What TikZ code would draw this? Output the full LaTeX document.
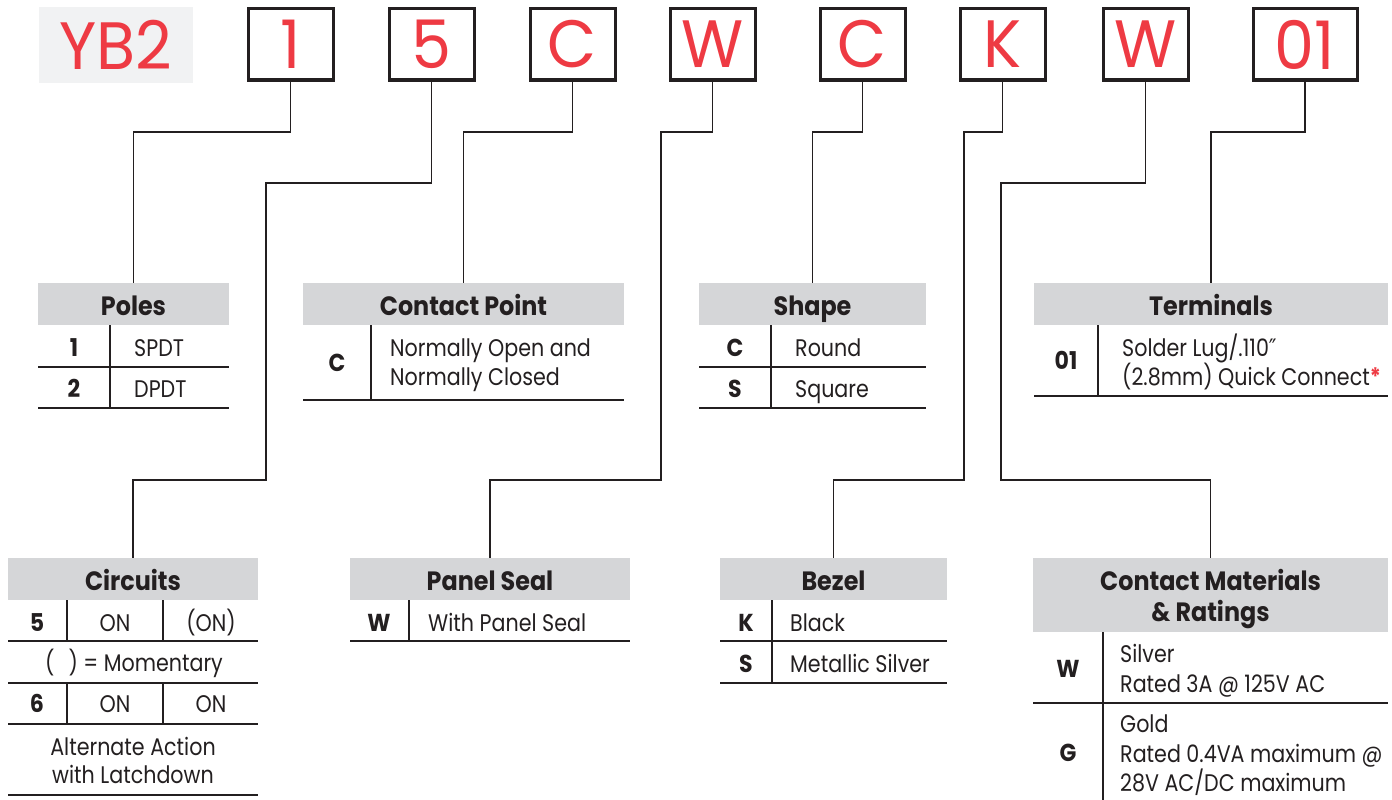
\documentclass[tikz,border=0pt]{standalone}
\usepackage{fontspec}
\setmainfont{Poppins}[FakeStretch=0.86]
\newfontfamily\hdrfont{Poppins}[FakeStretch=0.9]
\newfontfamily\topfont{Poppins}[FakeStretch=0.95]
\newfontfamily\dvfont{DejaVu Sans}[FakeStretch=0.86]
\definecolor{ink}{HTML}{231F20}
\definecolor{redc}{HTML}{EE3A43}
\definecolor{hdrg}{HTML}{D5D6D8}
\definecolor{yb}{HTML}{F1F2F3}
\begin{document}
\begin{tikzpicture}[x=1pt,y=-1pt,
  topbox/.style={draw=ink,line width=3pt,minimum width=85pt,minimum height=71pt,inner sep=0pt,
    text=redc,font=\topfont\fontsize{67}{67}\selectfont},
  hdr/.style={fill=hdrg,inner sep=0pt,minimum height=42pt},
  htxt/.style={inner sep=0pt,anchor=base,text=ink,font=\hdrfont\bfseries\fontsize{26.5}{32}\selectfont},
  cell/.style={inner sep=0pt,anchor=base west,text=ink,font=\fontsize{24}{29}\selectfont},
  ccell/.style={cell,anchor=base},
  key/.style={inner sep=0pt,anchor=base,text=ink,font=\hdrfont\bfseries\fontsize{24.5}{29}\selectfont},
  tl/.style={draw=ink,line width=1.4pt},
  conn/.style={draw=ink,line width=1.1pt}]
\useasboundingbox (0,0) rectangle (1392,800);
% top row
\node[fill=yb,minimum width=154pt,minimum height=75pt,inner sep=0pt,text=redc,font=\topfont\fontsize{67}{67}\selectfont] (yb2) at (116,45) {YB2};
\node[topbox] (b1) at (290.5,44.5) {1};
\node[topbox] (b2) at (431.5,44.5) {5};
\node[topbox] (b3) at (572.5,44.5) {C};
\node[topbox] (b4) at (712.5,44.5) {W};
\node[topbox] (b5) at (862.5,44.5) {C};
\node[topbox] (b6) at (1002.5,44.5) {K};
\node[topbox] (b7) at (1145.5,44.5) {W};
\node[topbox,minimum width=104pt] (b8) at (1305,44.5) {01};
% header boxes
\node[hdr,minimum width=191pt] (poles) at (133.5,304) {};
\node[hdr,minimum width=321pt] (cpt) at (463.5,304) {};
\node[hdr,minimum width=227pt] (shape) at (812.5,304) {};
\node[hdr,minimum width=354pt] (term) at (1211,304) {};
\node[hdr,minimum width=250pt] (circ) at (133,579) {};
\node[hdr,minimum width=280pt] (seal) at (490,579) {};
\node[hdr,minimum width=227pt] (bezel) at (833.5,579) {};
\node[hdr,minimum width=355pt,minimum height=74pt] (mat) at (1210.5,595) {};
% header texts
\node[htxt] (polesT) at (133.5,315) {Poles};
\node[htxt] (cptT) at (463.5,315) {Contact Point};
\node[htxt] (shapeT) at (812.5,315) {Shape};
\node[htxt] (termT) at (1211,315) {Terminals};
\node[htxt] (circT) at (133,590) {Circuits};
\node[htxt] (sealT) at (490,590) {Panel Seal};
\node[htxt] (bezelT) at (833.5,590) {Bezel};
\node[htxt] (matT1) at (1210.5,590) {Contact Materials};
\node[htxt] (matT2) at (1210.5,621) {\& Ratings};
% connectors
\draw[conn] (b1.south) -- (b1.south |- 0,132) -| (poles.north);
\draw[conn] (b2.south) -- (b2.south |- 0,183) -- (266,183) -- (266,480) -| (circ.north);
\draw[conn] (b3.south) -- (b3.south |- 0,132) -| (cpt.north);
\draw[conn] (b4.south) -- (b4.south |- 0,132) -- (661,132) -- (661,480) -| (seal.north);
\draw[conn] (b5.south) -- (b5.south |- 0,132) -| (shape.north);
\draw[conn] (b6.south) -- (b6.south |- 0,132) -- (964,132) -- (964,480) -| (bezel.north);
\draw[conn] (b7.south) -- (b7.south |- 0,183) -- (1001,183) -- (1001,480) -| (mat.north);
\draw[conn] (b8.south) -- (b8.south |- 0,132) -| (term.north);
% Poles table
\draw[tl] (38,367) -- (229,367) (38,408) -- (229,408) (110,325) -- (110,408);
\node[key] (p1k) at (74,356) {1};
\node[cell] (p1v) at (134,356) {SPDT};
\node[key] (p2k) at (74,397) {2};
\node[cell] (p2v) at (134,397) {DPDT};
% Contact point table
\draw[tl] (303,400) -- (624,400) (371,325) -- (371,400);
\node[key] (ck) at (337,371) {C};
\node[cell] (cv1) at (390,356) {Normally Open and};
\node[cell] (cv2) at (390,385) {Normally Closed};
% Shape table
\draw[tl] (699,367) -- (926,367) (699,408) -- (926,408) (771,325) -- (771,408);
\node[key] (s1k) at (735,356) {C};
\node[cell] (s1v) at (795,356) {Round};
\node[key] (s2k) at (735,397) {S};
\node[cell] (s2v) at (795,397) {Square};
% Terminals table
\draw[tl] (1034,396) -- (1388,396) (1098,325) -- (1098,396);
\node[key] (tk) at (1066,369) {01};
\node[cell] (tv1) at (1122,356) {Solder Lug/.110{\dvfont ″}};
\node[cell] (tv2) at (1122,385) {(2.8mm) Quick Connect\textcolor{redc}{\bfseries *}};
% Circuits table
\draw[tl] (8,641) -- (258,641) (8,683) -- (258,683) (8,724) -- (258,724) (8,795) -- (258,795)
  (67,600) -- (67,641) (163,600) -- (163,641) (67,683) -- (67,724) (163,683) -- (163,724);
\node[key] (c5) at (37,631) {5};
\node[ccell] (c5a) at (115,631) {ON};
\node[ccell] (c5b) at (211,631) {(ON)};
\node[ccell] (cm) at (134,671) {(\hspace{14pt}) = Momentary};
\node[key] (c6) at (37,712) {6};
\node[ccell] (c6a) at (115,712) {ON};
\node[ccell] (c6b) at (211,712) {ON};
\node[ccell] (calt1) at (133,755) {Alternate Action};
\node[ccell] (calt2) at (133,783) {with Latchdown};
% Panel seal table
\draw[tl] (350,641) -- (630,641) (409,600) -- (409,641);
\node[key] (wk) at (379,631) {W};
\node[cell] (wv) at (428,631) {With Panel Seal};
% Bezel table
\draw[tl] (720,641) -- (947,641) (720,683) -- (947,683) (772,600) -- (772,683);
\node[key] (bk1) at (746,631) {K};
\node[cell] (bv1) at (790,631) {Black};
\node[key] (bk2) at (746,672) {S};
\node[cell] (bv2) at (790,672) {Metallic Silver};
% Contact materials table
\draw[tl] (1033,703) -- (1388,703) (1103,632) -- (1103,800);
\node[key] (mw) at (1068,677) {W};
\node[cell] (mw1) at (1120,662) {Silver};
\node[cell] (mw2) at (1120,692) {Rated 3A @ 125V AC};
\node[key] (mg) at (1068,761) {G};
\node[cell] (mg1) at (1120,732) {Gold};
\node[cell] (mg2) at (1120,762) {Rated 0.4VA maximum @};
\node[cell] (mg3) at (1120,791) {28V AC/DC maximum};
\end{tikzpicture}
\end{document}
